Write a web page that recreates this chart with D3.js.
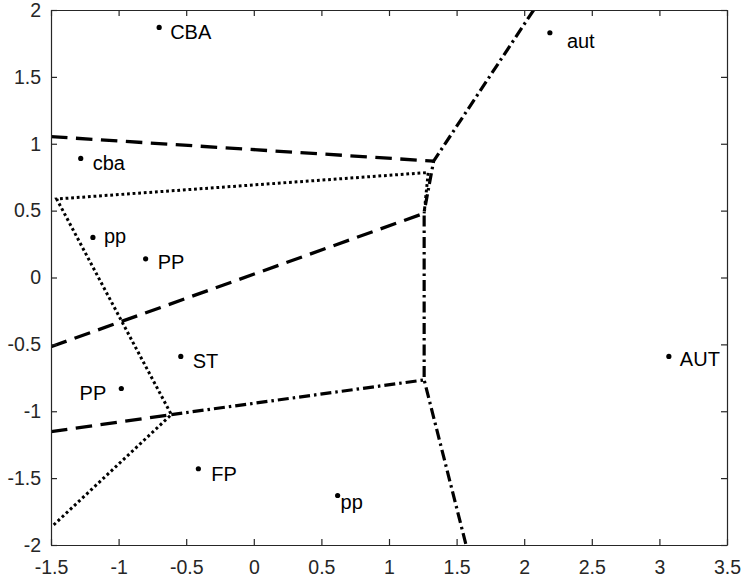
<!DOCTYPE html>
<html>
<head>
<meta charset="utf-8">
<script src="https://cdn.jsdelivr.net/npm/d3@7"></script>
<style>
  html, body { margin: 0; padding: 0; background: #fff; }
  svg { display: block; font-family: "Liberation Sans", Arial, sans-serif; }
</style>
</head>
<body>
<svg id="chart" width="743" height="581"></svg>
<script>
// ---- data ----
const xTicks = [-1.5, -1, -0.5, 0, 0.5, 1, 1.5, 2, 2.5, 3, 3.5];
const yTicks = [-2, -1.5, -1, -0.5, 0, 0.5, 1, 1.5, 2];

const pointNames = ["CBA", "cba", "pp", "PP", "ST", "PP", "FP", "pp", "aut", "AUT"];
const pointX = [-0.70, -1.28, -1.19, -0.80, -0.54, -0.98, -0.41, 0.62, 2.19, 3.07];
const pointY = [1.87, 0.89, 0.30, 0.14, -0.59, -0.83, -1.43, -1.63, 1.83, -0.59];

// boundary polylines, [x, y] in data units
const dashedLines = [
  [[-1.5, 1.053], [1.33, 0.87]],
  [[-1.5, -0.517], [1.26, 0.48]],
  [[-1.5, -1.153], [-0.61, -1.025]]
];
const dottedLines = [
  [[-1.48, -1.85], [-0.61, -1.025], [-1.458, 0.587], [1.29, 0.785], [1.26, 0.48]]
];
const dashDotLines = [
  [[2.07, 2.0], [1.33, 0.87], [1.26, 0.49], [1.26, -0.766], [1.57, -2.0]],
  [[-0.61, -1.025], [1.26, -0.766]]
];

// ---- label placement (style) ----
const labelAnchor = ["start", "start", "start", "start", "start", "end", "start", "start", "start", "start"];
const labelDx = [11, 12, 11, 12, 12, -15, 13, 3, 17, 11];
const labelDy = [12, 12, 6, 10, 12, 11, 12, 13, 15, 10];

// ---- layout ----
const L = 51, R = 727, T = 10, B = 545;
const svg = d3.select("#chart");
const x = d3.scaleLinear().domain([-1.5, 3.5]).range([L, R]);
const y = d3.scaleLinear().domain([-2, 2]).range([B, T]);
const axisColor = "#262626";
const tickLen = 6;

svg.append("defs").append("clipPath").attr("id", "clip")
  .append("rect").attr("x", L).attr("y", T).attr("width", R - L).attr("height", B - T);

const plot = svg.append("g").attr("clip-path", "url(#clip)");
const line = d3.line().x(d => x(d[0])).y(d => y(d[1]));

plot.selectAll(".dashed").data(dashedLines).join("path")
  .attr("d", line).attr("fill", "none").attr("stroke", "#000")
  .attr("stroke-width", 3.3).attr("stroke-dasharray", "16.5,8.5");

plot.selectAll(".dotted").data(dottedLines).join("path")
  .attr("d", line).attr("fill", "none").attr("stroke", "#000")
  .attr("stroke-width", 3).attr("stroke-dasharray", "2.8,2.8");

plot.selectAll(".dashdot").data(dashDotLines).join("path")
  .attr("d", line).attr("fill", "none").attr("stroke", "#000")
  .attr("stroke-width", 3.2).attr("stroke-dasharray", "11,4,2.5,4");

// points
const idx = d3.range(pointNames.length);
plot.selectAll(".pt").data(idx).join("circle")
  .attr("cx", i => x(pointX[i])).attr("cy", i => y(pointY[i]))
  .attr("r", 2.6).attr("fill", "#000");

svg.selectAll(".lbl").data(idx).join("text")
  .attr("x", i => x(pointX[i]) + labelDx[i])
  .attr("y", i => y(pointY[i]) + labelDy[i])
  .attr("text-anchor", i => labelAnchor[i])
  .attr("font-size", 20).attr("fill", "#000")
  .text(i => pointNames[i]);

// axes box
const fmt = d => String(d);
const gx = svg.append("g").attr("transform", `translate(0,${B})`)
  .call(d3.axisBottom(x).tickValues(xTicks).tickFormat(fmt).tickSizeInner(-tickLen).tickSizeOuter(0).tickPadding(15));
const gxTop = svg.append("g").attr("transform", `translate(0,${T})`)
  .call(d3.axisTop(x).tickValues(xTicks).tickFormat("").tickSizeInner(-tickLen).tickSizeOuter(0));
const gy = svg.append("g").attr("transform", `translate(${L},0)`)
  .call(d3.axisLeft(y).tickValues(yTicks).tickFormat(fmt).tickSizeInner(-tickLen).tickSizeOuter(0).tickPadding(10));
const gyR = svg.append("g").attr("transform", `translate(${R},0)`)
  .call(d3.axisRight(y).tickValues(yTicks).tickFormat("").tickSizeInner(-tickLen).tickSizeOuter(0));

[gx, gxTop, gy, gyR].forEach(g => {
  g.selectAll("path.domain").attr("stroke", axisColor).attr("stroke-width", 1.2);
  g.selectAll(".tick line").attr("stroke", axisColor).attr("stroke-width", 1.2);
  g.selectAll(".tick text").attr("fill", axisColor).attr("font-size", 19.5)
    .attr("font-family", "'Liberation Sans', Arial, sans-serif");
});
</script>
</body>
</html>
